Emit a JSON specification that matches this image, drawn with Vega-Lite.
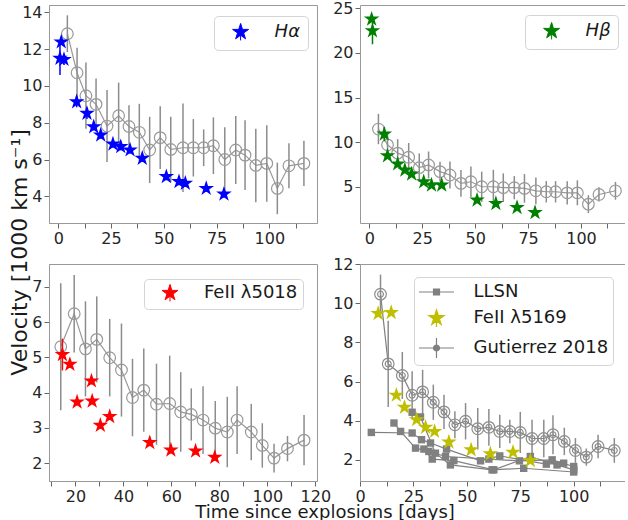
{
  "$schema": "https://vega.github.io/schema/vega-lite/v6.json",
  "padding": {"left": 9, "top": 0, "right": 0, "bottom": 0},
  "background": "white",
  "title": {"text": "Time since explosions [days]", "orient": "bottom", "anchor": "middle", "fontSize": 18, "fontWeight": "normal", "offset": -1, "color": "#1a1a1a", "dx": 8},
  "datasets": {
    "gut_ha": [
      {"t":4.3,"v":12.84,"e":1.0},{"t":8.9,"v":10.72,"e":1.36},{"t":13.1,"v":9.47,"e":1.8},{"t":17.9,"v":9.0,"e":1.4},
      {"t":23.1,"v":7.82,"e":1.96},{"t":28.6,"v":8.38,"e":1.8},{"t":33.5,"v":7.8,"e":1.15},{"t":38.4,"v":7.48,"e":1.55},
      {"t":43.3,"v":6.52,"e":1.8},{"t":48.3,"v":7.19,"e":1.7},{"t":53.3,"v":6.55,"e":1.78},{"t":59.1,"v":6.64,"e":2.4},
      {"t":64.0,"v":6.64,"e":1.56},{"t":68.9,"v":6.64,"e":1.0},{"t":73.5,"v":6.75,"e":1.54},{"t":78.9,"v":6.0,"e":1.75},
      {"t":84.1,"v":6.52,"e":1.85},{"t":88.5,"v":6.24,"e":1.9},{"t":93.6,"v":5.68,"e":2.0},{"t":98.8,"v":5.79,"e":2.08},
      {"t":103.8,"v":4.43,"e":1.4},{"t":109.3,"v":5.66,"e":1.22},{"t":116.4,"v":5.79,"e":1.23}
    ],
    "ha": [
      {"t":1.4,"v":12.39,"e":0.15},{"t":0.8,"v":11.5,"e":0.9},{"t":2.7,"v":11.44,"e":0.3},{"t":8.7,"v":9.14,"e":0.3},
      {"t":13.6,"v":8.51,"e":0.3},{"t":16.8,"v":7.78,"e":0.2},{"t":20.1,"v":7.33,"e":0.2},{"t":25.9,"v":6.84,"e":0.2},
      {"t":29.6,"v":6.7,"e":0.2},{"t":34.0,"v":6.52,"e":0.2},{"t":39.8,"v":6.07,"e":0.2},{"t":51.2,"v":5.07,"e":0.2},
      {"t":57.2,"v":4.8,"e":0.2},{"t":60.2,"v":4.71,"e":0.2},{"t":70.1,"v":4.43,"e":0.2},{"t":78.5,"v":4.12,"e":0.2}
    ],
    "gut_hb": [
      {"t":4.3,"v":11.47,"e":1.7},{"t":8.6,"v":9.7,"e":1.3},{"t":13.4,"v":8.77,"e":1.57},{"t":18.6,"v":8.31,"e":1.6},
      {"t":23.6,"v":7.14,"e":1.6},{"t":28.0,"v":7.45,"e":1.5},{"t":33.4,"v":6.7,"e":1.1},{"t":38.1,"v":6.32,"e":1.5},
      {"t":43.3,"v":5.38,"e":1.5},{"t":48.0,"v":5.56,"e":1.7},{"t":53.1,"v":5.0,"e":1.7},{"t":58.6,"v":5.0,"e":1.9},
      {"t":63.3,"v":4.9,"e":1.6},{"t":68.5,"v":4.9,"e":1.3},{"t":73.3,"v":4.82,"e":1.6},{"t":78.7,"v":4.55,"e":1.5},
      {"t":83.6,"v":4.44,"e":1.2},{"t":88.0,"v":4.44,"e":1.2},{"t":93.5,"v":4.32,"e":1.3},{"t":98.3,"v":4.32,"e":1.4},
      {"t":103.5,"v":3.05,"e":1.0},{"t":108.5,"v":4.14,"e":0.8},{"t":116.3,"v":4.55,"e":1.0}
    ],
    "hb": [
      {"t":1.1,"v":23.79,"e":0.3},{"t":1.5,"v":22.47,"e":1.5},{"t":7.1,"v":10.9,"e":0.8},{"t":8.6,"v":8.46,"e":0.3},
      {"t":13.4,"v":7.56,"e":0.3},{"t":16.8,"v":6.88,"e":0.3},{"t":20.0,"v":6.43,"e":0.3},{"t":25.7,"v":5.56,"e":0.3},
      {"t":29.4,"v":5.19,"e":0.3},{"t":34.2,"v":5.19,"e":0.3},{"t":50.9,"v":3.5,"e":0.3},{"t":59.8,"v":3.12,"e":0.3},
      {"t":69.8,"v":2.67,"e":0.3},{"t":78.3,"v":2.11,"e":0.3}
    ],
    "gut_fe": [
      {"t":13.9,"v":5.3,"e":1.8},{"t":19.5,"v":6.24,"e":1.1},{"t":24.2,"v":5.24,"e":1.35},{"t":28.9,"v":5.51,"e":1.22},
      {"t":34.3,"v":4.99,"e":1.1},{"t":39.2,"v":4.64,"e":1.32},{"t":43.8,"v":3.86,"e":1.1},{"t":48.5,"v":4.07,"e":1.18},
      {"t":53.8,"v":3.67,"e":1.15},{"t":59.3,"v":3.69,"e":1.36},{"t":63.9,"v":3.45,"e":1.13},{"t":68.3,"v":3.38,"e":0.74},
      {"t":73.2,"v":3.22,"e":0.96},{"t":78.3,"v":2.99,"e":0.77},{"t":83.3,"v":2.88,"e":1.0},{"t":87.4,"v":3.22,"e":0.96},
      {"t":93.3,"v":2.88,"e":0.8},{"t":97.9,"v":2.5,"e":0.63},{"t":102.8,"v":2.14,"e":0.41},{"t":108.4,"v":2.41,"e":0.36},
      {"t":115.3,"v":2.65,"e":0.71}
    ],
    "fe5018": [
      {"t":14.6,"v":5.08,"e":0.45},{"t":17.7,"v":4.8,"e":0.1},{"t":20.7,"v":3.73,"e":0.1},{"t":26.7,"v":4.33,"e":0.1},
      {"t":27.0,"v":3.76,"e":0.1},{"t":30.4,"v":3.07,"e":0.1},{"t":34.3,"v":3.32,"e":0.1},{"t":51.0,"v":2.58,"e":0.1},
      {"t":59.8,"v":2.37,"e":0.1},{"t":70.1,"v":2.34,"e":0.1},{"t":78.1,"v":2.16,"e":0.1}
    ],
    "gut_fe5169": [
      {"t":9.6,"v":10.46,"e":1.0},{"t":13.2,"v":6.9,"e":2.2},{"t":19.8,"v":6.31,"e":1.2},{"t":24.4,"v":5.3,"e":1.23},
      {"t":29.3,"v":5.47,"e":1.13},{"t":34.3,"v":4.94,"e":0.9},{"t":39.3,"v":4.45,"e":0.88},{"t":44.4,"v":3.79,"e":0.69},
      {"t":49.4,"v":3.97,"e":0.93},{"t":55.1,"v":3.59,"e":1.06},{"t":60.3,"v":3.66,"e":0.94},{"t":65.4,"v":3.45,"e":0.85},
      {"t":70.1,"v":3.45,"e":0.6},{"t":75.0,"v":3.4,"e":1.05},{"t":80.5,"v":3.09,"e":0.96},{"t":86.0,"v":3.09,"e":0.96},
      {"t":90.3,"v":3.28,"e":1.0},{"t":95.6,"v":2.94,"e":0.7},{"t":100.8,"v":2.48,"e":0.63},{"t":105.9,"v":2.14,"e":0.44},
      {"t":111.4,"v":2.68,"e":0.6},{"t":119.0,"v":2.48,"e":0.63}
    ],
    "fe5169": [
      {"t":8.5,"v":9.47,"e":0.2},{"t":14.6,"v":9.52,"e":0.2},{"t":17.0,"v":5.3,"e":0.2},{"t":20.8,"v":4.68,"e":0.2},
      {"t":26.5,"v":4.05,"e":0.2},{"t":30.7,"v":3.66,"e":0.2},{"t":34.9,"v":3.45,"e":0.2},{"t":41.6,"v":2.91,"e":0.2},
      {"t":52.0,"v":2.51,"e":0.2},{"t":61.0,"v":2.31,"e":0.2},{"t":71.6,"v":2.39,"e":0.2},{"t":79.7,"v":1.96,"e":0.2}
    ],
    "llsn": [
      {"id":"a","t":5.3,"v":3.4},{"id":"a","t":24.4,"v":3.37},{"id":"a","t":28.8,"v":3.03},{"id":"a","t":33.0,"v":2.86},
      {"id":"a","t":40.5,"v":2.55},{"id":"a","t":56.4,"v":1.95},{"id":"a","t":65.4,"v":2.2},{"id":"a","t":87.2,"v":1.78},{"id":"a","t":95.3,"v":1.83},
      {"id":"b","t":15.9,"v":3.88},{"id":"b","t":19.0,"v":3.45},{"id":"b","t":26.0,"v":2.6},{"id":"b","t":32.2,"v":2.43},
      {"id":"b","t":40.0,"v":2.17},{"id":"b","t":60.3,"v":2.04},{"id":"b","t":74.6,"v":1.95},{"id":"b","t":89.9,"v":2.0},{"id":"b","t":100.0,"v":1.66},
      {"id":"c","t":24.4,"v":4.43},{"id":"c","t":28.3,"v":4.19},{"id":"c","t":35.3,"v":2.34},{"id":"c","t":42.3,"v":1.74},
      {"id":"c","t":61.8,"v":1.49},{"id":"c","t":76.6,"v":1.57},{"id":"c","t":100.0,"v":1.38},
      {"id":"d","t":29.9,"v":2.55},{"id":"d","t":33.8,"v":2.04},{"id":"d","t":43.9,"v":1.96},{"id":"d","t":62.6,"v":1.49},
      {"id":"d","t":79.7,"v":2.17},{"id":"d","t":92.2,"v":1.74},{"id":"d","t":100.0,"v":1.49}
    ]
  },
  "vconcat": [
    {
      "title": {"text": "Velocity [1000 km s⁻¹]", "orient": "left", "anchor": "middle", "fontSize": 22, "fontWeight": "normal", "offset": -11, "color": "#1a1a1a"},
      "columns": 2,
      "spacing": {"row": 41, "column": 43},
      "bounds": "flush",
      "resolve": {
        "scale": {"x": "independent", "y": "independent", "fill": "independent", "stroke": "independent", "shape": "independent"},
        "axis": {"x": "independent", "y": "independent"},
        "legend": {"fill": "independent", "stroke": "independent", "shape": "independent"}
      },
      "concat": [
        {
          "width": 268, "height": 218,
          "view": {"stroke": "#999999"},
          "encoding": {
            "x": {"field": "t", "type": "quantitative", "title": null, "scale": {"domain": [-4.4, 122.6], "nice": false, "zero": false},
                  "axis": {"values": [0,12.5,25,37.5,50,62.5,75,87.5,100,112.5], "labelExpr": "datum.value % 25 === 0 ? datum.label : ''", "title": null}},
            "y": {"field": "v", "type": "quantitative", "title": null, "scale": {"domain": [2.55, 14.4], "nice": false, "zero": false},
                  "axis": {"values": [4,6,8,10,12,14], "title": null}}
          },
          "layer": [
            {"data": {"name": "gut_ha"}, "mark": {"type": "line", "color": "#999999", "strokeWidth": 1.2}, "encoding": {}},
            {"data": {"name": "gut_ha"}, "mark": {"type": "errorbar", "color": "#8c8c8c", "thickness": 1.5}, "encoding": {"yError": {"field": "e"}}},
            {"data": {"name": "gut_ha"}, "mark": {"type": "point", "shape": "circle", "filled": false, "size": 135, "color": "#999999", "strokeWidth": 1.2, "opacity": 1}, "encoding": {}},
            {"data": {"name": "ha"}, "mark": {"type": "errorbar", "color": "#0000ff", "thickness": 1.5}, "encoding": {"yError": {"field": "e"}}},
            {"data": {"name": "ha"}, "mark": {"type": "point", "shape": "M0,-1L0.225,-0.309L0.951,-0.309L0.363,0.118L0.588,0.809L0,0.382L-0.588,0.809L-0.363,0.118L-0.951,-0.309L-0.225,-0.309Z", "filled": true, "size": 270, "color": "#0000ff", "strokeWidth": 0, "opacity": 1}, "encoding": {}},
            {"data": {"values": [{"s": "Hα", "t": null, "v": null}]},
             "mark": {"type": "point", "filled": true, "opacity": 1, "strokeWidth": 1},
             "encoding": {
               "fill": {"field": "s", "type": "nominal", "scale": {"domain": ["Hα"], "range": ["#0000ff"]}, "legend": {"orient": "none", "legendX": 165, "legendY": 11, "title": null, "symbolSize": 282, "symbolStrokeWidth": 1, "labelFontStyle": "italic", "padding": 7, "symbolOffset": 10.6, "labelOffset": 25}},
               "stroke": {"field": "s", "type": "nominal", "scale": {"domain": ["Hα"], "range": ["#0000ff"]}, "legend": {"orient": "none", "legendX": 165, "legendY": 11, "title": null, "symbolSize": 282, "symbolStrokeWidth": 1, "labelFontStyle": "italic", "padding": 7, "symbolOffset": 10.6, "labelOffset": 25}},
               "shape": {"field": "s", "type": "nominal", "scale": {"domain": ["Hα"], "range": ["M0,-1V1M0,-1L0.225,-0.309L0.951,-0.309L0.363,0.118L0.588,0.809L0,0.382L-0.588,0.809L-0.363,0.118L-0.951,-0.309L-0.225,-0.309Z"]}, "legend": {"orient": "none", "legendX": 165, "legendY": 11, "title": null, "symbolSize": 282, "symbolStrokeWidth": 1, "labelFontStyle": "italic", "padding": 7, "symbolOffset": 10.6, "labelOffset": 25}}
             }}
          ]
        },
        {
          "width": 265, "height": 218,
          "view": {"stroke": null},
          "resolve": {"axis": {"x": "independent", "y": "independent"}},
          "layer": [
            {
              "encoding": {
                "x": {"field": "t", "type": "quantitative", "title": null, "scale": {"domain": [-4.4, 120.8], "nice": false, "zero": false},
                      "axis": {"values": [0,12.5,25,37.5,50,62.5,75,87.5,100,112.5], "labelExpr": "datum.value % 25 === 0 ? datum.label : ''", "title": null}},
                "y": {"field": "v", "type": "quantitative", "title": null, "scale": {"domain": [0.94, 25.37], "nice": false, "zero": false},
                      "axis": {"values": [5,10,15,20,25], "title": null}}
              },
              "layer": [
                {"data": {"name": "gut_hb"}, "mark": {"type": "line", "color": "#999999", "strokeWidth": 1.2}, "encoding": {}},
                {"data": {"name": "gut_hb"}, "mark": {"type": "errorbar", "color": "#8c8c8c", "thickness": 1.5}, "encoding": {"yError": {"field": "e"}}},
                {"data": {"name": "gut_hb"}, "mark": {"type": "point", "shape": "circle", "filled": false, "size": 135, "color": "#999999", "strokeWidth": 1.2, "opacity": 1}, "encoding": {}},
                {"data": {"name": "hb"}, "mark": {"type": "errorbar", "color": "#008000", "thickness": 1.5}, "encoding": {"yError": {"field": "e"}}},
                {"data": {"name": "hb"}, "mark": {"type": "point", "shape": "M0,-1L0.225,-0.309L0.951,-0.309L0.363,0.118L0.588,0.809L0,0.382L-0.588,0.809L-0.363,0.118L-0.951,-0.309L-0.225,-0.309Z", "filled": true, "size": 270, "color": "#008000", "strokeWidth": 0, "opacity": 1}, "encoding": {}}
              ]
            },
            {"data": {"values": [{"s": "Hβ", "t": null, "v": null}]},
             "mark": {"type": "point", "filled": true, "opacity": 1, "strokeWidth": 1},
             "encoding": {
               "x": {"field": "t", "type": "quantitative", "title": null, "scale": {"domain": [-4.4, 120.8], "nice": false, "zero": false}, "axis": {"orient": "top", "labels": false, "ticks": false, "title": null}},
               "y": {"field": "v", "type": "quantitative", "title": null, "scale": {"domain": [0.94, 25.37], "nice": false, "zero": false}, "axis": null},
               "fill": {"field": "s", "type": "nominal", "scale": {"domain": ["Hβ"], "range": ["#008000"]}, "legend": {"orient": "none", "legendX": 165, "legendY": 10, "title": null, "symbolSize": 282, "symbolStrokeWidth": 1, "labelFontStyle": "italic", "padding": 7, "symbolOffset": 10.6, "labelOffset": 25}},
               "stroke": {"field": "s", "type": "nominal", "scale": {"domain": ["Hβ"], "range": ["#008000"]}, "legend": {"orient": "none", "legendX": 165, "legendY": 10, "title": null, "symbolSize": 282, "symbolStrokeWidth": 1, "labelFontStyle": "italic", "padding": 7, "symbolOffset": 10.6, "labelOffset": 25}},
               "shape": {"field": "s", "type": "nominal", "scale": {"domain": ["Hβ"], "range": ["M0,-1V1M0,-1L0.225,-0.309L0.951,-0.309L0.363,0.118L0.588,0.809L0,0.382L-0.588,0.809L-0.363,0.118L-0.951,-0.309L-0.225,-0.309Z"]}, "legend": {"orient": "none", "legendX": 165, "legendY": 10, "title": null, "symbolSize": 282, "symbolStrokeWidth": 1, "labelFontStyle": "italic", "padding": 7, "symbolOffset": 10.6, "labelOffset": 25}}
             }}
          ]
        },
        {
          "width": 268, "height": 217,
          "view": {"stroke": "#999999"},
          "encoding": {
            "x": {"field": "t", "type": "quantitative", "title": null, "scale": {"domain": [9.0, 120.7], "nice": false, "zero": false},
                  "axis": {"values": [10,20,30,40,50,60,70,80,90,100,110,120], "labelExpr": "datum.value % 20 === 0 ? datum.label : ''", "title": null}},
            "y": {"field": "v", "type": "quantitative", "title": null, "scale": {"domain": [1.49, 7.65], "nice": false, "zero": false},
                  "axis": {"values": [2,3,4,5,6,7], "title": null}}
          },
          "layer": [
            {"data": {"name": "gut_fe"}, "mark": {"type": "line", "color": "#999999", "strokeWidth": 1.2}, "encoding": {}},
            {"data": {"name": "gut_fe"}, "mark": {"type": "errorbar", "color": "#8c8c8c", "thickness": 1.5}, "encoding": {"yError": {"field": "e"}}},
            {"data": {"name": "gut_fe"}, "mark": {"type": "point", "shape": "circle", "filled": false, "size": 135, "color": "#999999", "strokeWidth": 1.2, "opacity": 1}, "encoding": {}},
            {"data": {"name": "fe5018"}, "mark": {"type": "errorbar", "color": "#ff0000", "thickness": 1.5}, "encoding": {"yError": {"field": "e"}}},
            {"data": {"name": "fe5018"}, "mark": {"type": "point", "shape": "M0,-1L0.225,-0.309L0.951,-0.309L0.363,0.118L0.588,0.809L0,0.382L-0.588,0.809L-0.363,0.118L-0.951,-0.309L-0.225,-0.309Z", "filled": true, "size": 270, "color": "#ff0000", "strokeWidth": 0, "opacity": 1}, "encoding": {}},
            {"data": {"values": [{"s": "FeII λ5018", "t": null, "v": null}]},
             "mark": {"type": "point", "filled": true, "opacity": 1, "strokeWidth": 1},
             "encoding": {
               "fill": {"field": "s", "type": "nominal", "scale": {"domain": ["FeII λ5018"], "range": ["#ff0000"]}, "legend": {"orient": "none", "legendX": 95, "legendY": 15, "title": null, "symbolSize": 282, "symbolStrokeWidth": 1, "padding": 5, "symbolOffset": 12, "labelOffset": 25}},
               "stroke": {"field": "s", "type": "nominal", "scale": {"domain": ["FeII λ5018"], "range": ["#ff0000"]}, "legend": {"orient": "none", "legendX": 95, "legendY": 15, "title": null, "symbolSize": 282, "symbolStrokeWidth": 1, "padding": 5, "symbolOffset": 12, "labelOffset": 25}},
               "shape": {"field": "s", "type": "nominal", "scale": {"domain": ["FeII λ5018"], "range": ["M0,-1V1M0,-1L0.225,-0.309L0.951,-0.309L0.363,0.118L0.588,0.809L0,0.382L-0.588,0.809L-0.363,0.118L-0.951,-0.309L-0.225,-0.309Z"]}, "legend": {"orient": "none", "legendX": 95, "legendY": 15, "title": null, "symbolSize": 282, "symbolStrokeWidth": 1, "padding": 5, "symbolOffset": 12, "labelOffset": 25}}
             }}
          ]
        },
        {
          "width": 265, "height": 217,
          "view": {"stroke": null},
          "resolve": {"axis": {"x": "independent", "y": "independent"}},
          "layer": [
            {
              "encoding": {
                "x": {"field": "t", "type": "quantitative", "title": null, "scale": {"domain": [0, 124], "nice": false, "zero": false},
                      "axis": {"values": [0,12.5,25,37.5,50,62.5,75,87.5,100,112.5], "labelExpr": "datum.value % 25 === 0 ? datum.label : ''", "title": null}},
                "y": {"field": "v", "type": "quantitative", "title": null, "scale": {"domain": [0.92, 12.0], "nice": false, "zero": false},
                      "axis": {"values": [2,4,6,8,10,12], "title": null}}
              },
              "layer": [
                {"data": {"name": "gut_fe5169"}, "mark": {"type": "line", "color": "#808080", "strokeWidth": 1.2}, "encoding": {}},
                {"data": {"name": "gut_fe5169"}, "mark": {"type": "errorbar", "color": "#8c8c8c", "thickness": 1.5}, "encoding": {"yError": {"field": "e"}}},
                {"data": {"name": "gut_fe5169"}, "mark": {"type": "point", "shape": "circle", "filled": false, "size": 135, "color": "#8c8c8c", "strokeWidth": 1.2, "opacity": 1}, "encoding": {}},
                {"data": {"name": "gut_fe5169"}, "mark": {"type": "point", "shape": "circle", "filled": false, "size": 35, "color": "#8c8c8c", "strokeWidth": 1.2, "opacity": 1}, "encoding": {}},
                {"data": {"name": "llsn"}, "mark": {"type": "line", "color": "#808080", "strokeWidth": 1.2}, "encoding": {"detail": {"field": "id"}}},
                {"data": {"name": "llsn"}, "mark": {"type": "point", "shape": "square", "filled": true, "size": 55, "color": "#808080", "opacity": 1}, "encoding": {}},
                {"data": {"name": "fe5169"}, "mark": {"type": "point", "shape": "M0,-1L0.225,-0.309L0.951,-0.309L0.363,0.118L0.588,0.809L0,0.382L-0.588,0.809L-0.363,0.118L-0.951,-0.309L-0.225,-0.309Z", "filled": true, "size": 270, "color": "#bfbf00", "strokeWidth": 0, "opacity": 1}, "encoding": {}}
              ]
            },
            {"data": {"values": [{"s": "LLSN", "t": null, "v": null}]},
             "mark": {"type": "point", "filled": true, "opacity": 1, "strokeWidth": 1.2},
             "encoding": {
               "x": {"field": "t", "type": "quantitative", "title": null, "scale": {"domain": [0, 124], "nice": false, "zero": false}, "axis": {"orient": "top", "labels": false, "ticks": false, "title": null}},
               "y": {"field": "v", "type": "quantitative", "title": null, "scale": {"domain": [0.92, 12.0], "nice": false, "zero": false}, "axis": null},
               "fill": {"field": "s", "type": "nominal", "scale": {"domain": ["LLSN", "FeII λ5169", "Gutierrez 2018"], "range": ["#808080", "#bfbf00", "#808080"]}, "legend": {"orient": "none", "legendX": 54, "legendY": 13, "title": null, "symbolSize": 400, "symbolStrokeWidth": 1.2, "padding": 4, "symbolOffset": 7.5, "labelOffset": 26, "rowPadding": 5}},
               "stroke": {"field": "s", "type": "nominal", "scale": {"domain": ["LLSN", "FeII λ5169", "Gutierrez 2018"], "range": ["#808080", "#bfbf00", "#808080"]}, "legend": {"orient": "none", "legendX": 54, "legendY": 13, "title": null, "symbolSize": 400, "symbolStrokeWidth": 1.2, "padding": 4, "symbolOffset": 7.5, "labelOffset": 26, "rowPadding": 5}},
               "shape": {"field": "s", "type": "nominal", "scale": {"domain": ["LLSN", "FeII λ5169", "Gutierrez 2018"], "range": ["M-1.75,0H1.75M-0.3,-0.3H0.3V0.3H-0.3Z", "M0,-0.9V0.9M0,-0.8L0.18,-0.247L0.761,-0.247L0.29,0.094L0.47,0.647L0,0.306L-0.47,0.647L-0.29,0.094L-0.761,-0.247L-0.18,-0.247Z", "M-1.75,0H1.75M0,-1V1M-0.3,0A0.3,0.3 0 1,0 0.3,0A0.3,0.3 0 1,0 -0.3,0Z"]}, "legend": {"orient": "none", "legendX": 54, "legendY": 13, "title": null, "symbolSize": 400, "symbolStrokeWidth": 1.2, "padding": 4, "symbolOffset": 7.5, "labelOffset": 26, "rowPadding": 5}}
             }}
          ]
        }
      ]
    }
  ],
  "config": {
    "font": "DejaVu Sans",
    "view": {"stroke": "#999999", "strokeWidth": 1},
    "axis": {"grid": false, "domainColor": "#999999", "domainWidth": 1, "tickColor": "#666666", "tickSize": 5, "tickWidth": 1, "labelFont": "DejaVu Sans", "labelFontSize": 16, "labelColor": "#262626", "labelPadding": 2, "labelFlush": false, "labelOverlap": false},
    "legend": {"labelFont": "DejaVu Sans", "labelFontSize": 18, "labelColor": "#1a1a1a", "strokeColor": "#d4d4d4", "fillColor": "#ffffff", "cornerRadius": 4},
    "title": {"font": "DejaVu Sans", "fontWeight": "normal", "color": "#1a1a1a"}
  }
}
